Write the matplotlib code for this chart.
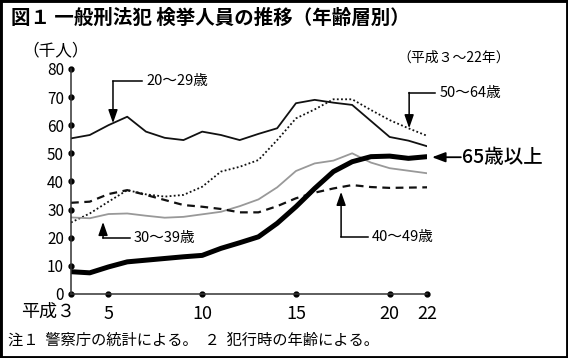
import matplotlib
matplotlib.use('Agg')
import matplotlib.pyplot as plt
from matplotlib.patches import Rectangle

plt.rcParams['font.family'] = ['Noto Sans CJK JP', 'DejaVu Sans']

# 年（平成）
years = [3, 4, 5, 6, 7, 8, 9, 10, 11, 12, 13, 14, 15, 16, 17, 18, 19, 20, 21, 22]

# 検挙人員（千人）
age_20_29 = [55.3, 56.5, 60.0, 63.0, 57.7, 55.5, 54.7, 57.7, 56.5, 54.7,
             56.9, 58.9, 67.8, 69.0, 68.0, 67.2, 61.5, 55.8, 54.5, 52.5]
age_30_39 = [27.2, 26.9, 28.4, 28.6, 27.8, 27.1, 27.4, 28.3, 29.2, 31.2,
             33.6, 37.9, 43.7, 46.4, 47.4, 50.0, 46.7, 44.7, 43.8, 42.9]
age_40_49 = [32.4, 32.8, 35.5, 36.9, 35.2, 33.4, 31.6, 31.0, 30.2, 29.0,
             29.0, 31.2, 34.0, 36.0, 37.5, 38.7, 38.0, 37.7, 37.8, 37.9]
age_50_64 = [25.4, 28.6, 32.8, 36.9, 35.4, 34.6, 35.2, 38.1, 43.5, 45.2,
             47.6, 54.7, 62.4, 65.6, 69.2, 69.2, 65.4, 61.8, 58.9, 56.2]
age_65 = [7.9, 7.5, 9.6, 11.4, 12.0, 12.6, 13.2, 13.7, 16.2, 18.2,
          20.3, 25.1, 31.0, 37.5, 43.5, 47.0, 48.8, 49.0, 48.2, 48.8]

xticks = [5, 10, 15, 20, 22]
yticks = [0, 10, 20, 30, 40, 50, 60, 70, 80]

fig = plt.figure(figsize=(5.68, 3.58), dpi=100)
ax = fig.add_axes([0.125, 0.179, 0.627, 0.6285])

ax.plot(years, age_20_29, color='#111111', lw=1.3)
ax.plot(years, age_50_64, color='#111111', lw=1.3, linestyle=(0, (1, 1.3)))
ax.plot(years, age_30_39, color='#999999', lw=1.3)
ax.plot(years, age_40_49, color='#111111', lw=1.6, linestyle=(0, (3.5, 2.5)))
ax.plot(years, age_65, color='#000000', lw=3.6, solid_capstyle='butt')

ax.set_xlim(3, 22)
ax.set_ylim(0, 80)
for s in ['top', 'right']:
    ax.spines[s].set_visible(False)
for s in ['left', 'bottom']:
    ax.spines[s].set_color('#333333')
    ax.spines[s].set_linewidth(1.1)

# tick dots
ax.plot([3] * len(yticks), yticks, 'o', color='black', ms=3.5, clip_on=False)
ax.plot(xticks, [0] * len(xticks), 'o', color='black', ms=3.5, clip_on=False)

ax.set_yticks(yticks)
ax.set_yticklabels([str(v) for v in yticks], fontsize=11)
ax.set_xticks(xticks)
ax.set_xticklabels([str(v) for v in xticks], fontsize=13)
ax.tick_params(axis='both', length=0)
ax.tick_params(axis='y', pad=5)
ax.tick_params(axis='x', pad=8)
ax.text(3.2, -6.4, '平成３', fontsize=13, ha='right', va='center')

# labels with elbow arrows
def elbow(label, tip, corner, end, txt_x, fs=10.5):
    ax.plot([corner[0], end[0]], [corner[1], end[1]], color='black', lw=1.1, clip_on=False)
    ax.annotate('', xy=tip, xytext=corner,
                arrowprops=dict(arrowstyle='-|>,head_length=0.8,head_width=0.28',
                                color='black', lw=1.1, shrinkA=0, shrinkB=0),
                annotation_clip=False)
    ax.text(txt_x, end[1], label, fontsize=fs, ha='left', va='center')

elbow('20〜29歳', (5.24, 60.7), (5.24, 75.7), (6.8, 75.7), 7.05)
elbow('50〜64歳', (21.04, 58.9), (21.04, 71.6), (22.4, 71.6), 22.65)
elbow('30〜39歳', (4.71, 25.6), (4.71, 19.9), (6.15, 19.9), 6.35)
elbow('40〜49歳', (17.41, 36.3), (17.41, 20.3), (18.85, 20.3), 19.05)

ax.annotate('', xy=(22.26, 48.6), xytext=(23.8, 48.6),
            arrowprops=dict(arrowstyle='-|>,head_length=0.8,head_width=0.3',
                            color='black', lw=1.3, shrinkA=0, shrinkB=0),
            annotation_clip=False)
ax.text(23.85, 48.6, '65歳以上', fontsize=14, fontweight='medium', ha='left', va='center')

fig.text(0.019, 0.95, '図１ 一般刑法犯 検挙人員の推移（年齢層別）', fontsize=14,
         fontweight='bold', ha='left', va='center')
fig.text(0.04, 0.858, '（千人）', fontsize=12, ha='left', va='center')
fig.text(0.70, 0.84, '（平成３〜22年）', fontsize=10, ha='left', va='center')
fig.text(0.014, 0.05, '注１  警察庁の統計による。  ２  犯行時の年齢による。',
         fontsize=11, ha='left', va='center')

fig.patches.append(Rectangle((0, 0), 1, 1, transform=fig.transFigure, fill=False,
                             edgecolor='black', lw=3.5))

fig.savefig('out.png', dpi=100)
